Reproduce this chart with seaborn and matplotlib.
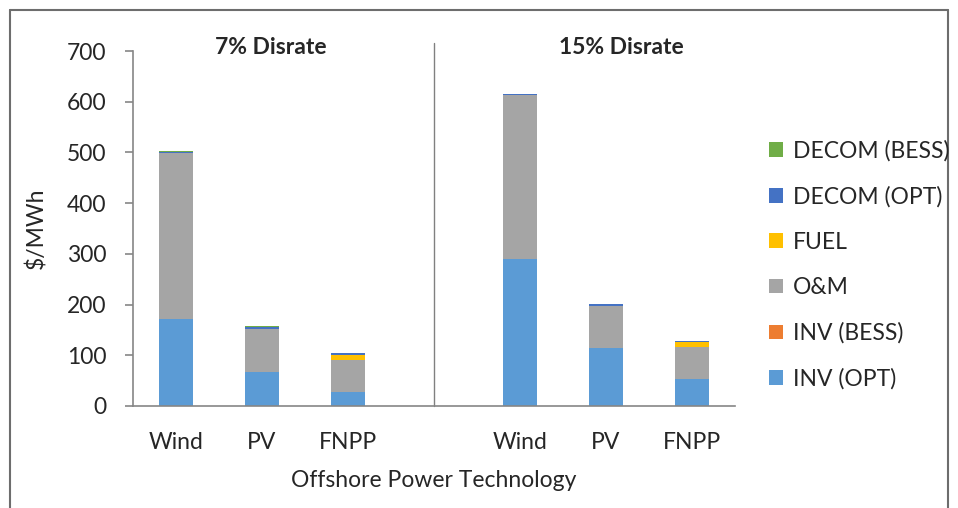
import pandas as pd
import matplotlib.pyplot as plt
import numpy as np
import seaborn as sns
from matplotlib.lines import Line2D
from matplotlib.patches import Patch
import matplotlib.transforms as mtransforms

# slots on the x axis (one empty slot between the two discount rates)
slots = ["W7", "P7", "F7", "gap", "W15", "P15", "F15"]
tick_labels = ["Wind", "PV", "FNPP", "", "Wind", "PV", "FNPP"]
bar_slots = ["W7", "P7", "F7", "W15", "P15", "F15"]

# cost components, $/MWh
inv_opt = [172, 68, 28, 290, 115, 53]
inv_bess = [0, 0, 0, 0, 0, 0]
om = [326, 84, 63, 323, 83, 63]
fuel = [0, 0, 10, 0, 0, 10]
decom_opt = [3, 3, 4, 2, 3, 3]
decom_bess = [2, 2, 0, 1, 1, 0]

components = ["INV (OPT)", "INV (BESS)", "O&M", "FUEL", "DECOM (OPT)", "DECOM (BESS)"]
colors = ["#5B9BD5", "#ED7D31", "#A5A5A5", "#FFC000", "#4472C4", "#70AD47"]

df = pd.DataFrame({"slot": bar_slots, "INV (OPT)": inv_opt, "INV (BESS)": inv_bess,
                   "O&M": om, "FUEL": fuel, "DECOM (OPT)": decom_opt,
                   "DECOM (BESS)": decom_bess})
cum = df[components].cumsum(axis=1)
cum["slot"] = df["slot"]

sns.set_style("white")
plt.rcParams['font.family'] = ['Lato', 'DejaVu Sans']
fs = 16.5

fig = plt.figure(figsize=(9.58, 5.08), dpi=100)
ax = fig.add_axes([133/958, 1-406/508, 602/958, 355/508])

# stack by drawing cumulative totals, topmost layer first
for comp, col in reversed(list(zip(components, colors))):
    sns.barplot(data=cum, x="slot", y=comp, order=slots, color=col, width=0.4,
                saturation=1, errorbar=None, ax=ax, linewidth=0)

ax.set_xlim(-0.5, 6.5)
ax.set_ylim(0, 700)
ax.set_yticks(range(0, 701, 100))
ax.set_xticks(range(7))
ax.set_xticklabels(tick_labels, fontsize=fs)
ax.set_xticks(np.arange(-0.5, 7, 1), minor=True)
ax.tick_params(axis='x', which='major', length=0, pad=19)
ax.tick_params(axis='x', which='minor', length=6, color='#868686', width=1.2, direction='out')
ax.tick_params(axis='y', length=6, color='#868686', width=1.2, direction='out', pad=13, labelsize=fs)
ax.tick_params(axis='both', left=True, bottom=True)
for s in ['top', 'right']:
    ax.spines[s].set_visible(False)
for s in ['left', 'bottom']:
    ax.spines[s].set_color('#868686')
    ax.spines[s].set_linewidth(1.2)

ax.set_ylabel("$/MWh", fontsize=fs)
ax.yaxis.set_label_coords(-0.142, 0.5)
ax.set_xlabel("Offshore Power Technology", fontsize=fs)
ax.xaxis.set_label_coords(0.5, -0.18)

# divider between the two discount rates
trans = mtransforms.blended_transform_factory(ax.transData, ax.transAxes)
ax.plot([3, 3], [0, 1.0225], transform=trans, color='#808080', lw=1, clip_on=False)

ax.text(0.229, 1.011, "7% Disrate", transform=ax.transAxes, ha='center', va='center',
        fontsize=fs, fontweight='bold')
ax.text(0.812, 1.011, "15% Disrate", transform=ax.transAxes, ha='center', va='center',
        fontsize=fs, fontweight='bold')

handles = [Patch(facecolor=c, edgecolor='none', label=l) for l, c in zip(components, colors)]
fig.legend(handles=handles[::-1], loc='upper left', bbox_to_anchor=(760/958, 1-131/508),
           frameon=False, fontsize=fs, handlelength=0.6, handleheight=0.6,
           handletextpad=0.45, labelspacing=1.06, borderaxespad=0)

# outer frame
fc = '#6d6d6d'
fig.add_artist(Line2D([10/958, 10/958], [0, 1-10/508], color=fc, lw=1.5))
fig.add_artist(Line2D([10/958, 948/958], [1-10/508, 1-10/508], color=fc, lw=1.5))
fig.add_artist(Line2D([948/958, 948/958], [0, 1-10/508], color=fc, lw=1.5))

fig.savefig("out.png", dpi=100)
